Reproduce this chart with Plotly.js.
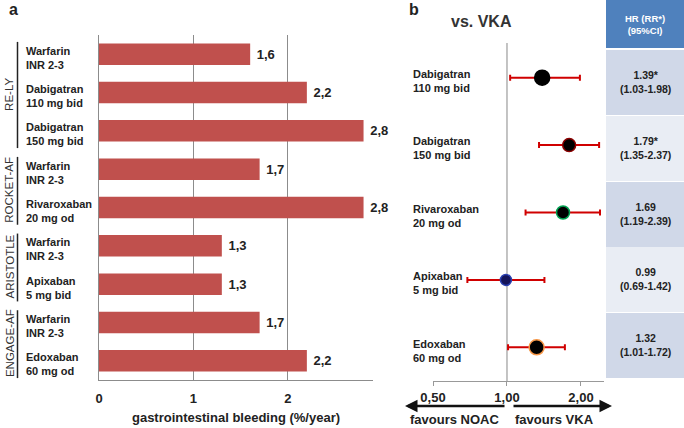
<!DOCTYPE html>
<html>
<head>
<meta charset="utf-8">
<script src="https://cdn.plot.ly/plotly-3.0.1.min.js"></script>
<style>html,body{margin:0;padding:0;background:#fff}#chart{width:684px;height:428px}</style>
</head>
<body>
<div id="chart"></div>
<script>
// ---- Panel a data ----
var barLabels = ["Warfarin<br>INR 2-3","Dabigatran<br>110 mg bid","Dabigatran<br>150 mg bid","Warfarin<br>INR 2-3","Rivaroxaban<br>20 mg od","Warfarin<br>INR 2-3","Apixaban<br>5 mg bid","Warfarin<br>INR 2-3","Edoxaban<br>60 mg od"];
var barValues = [1.6, 2.2, 2.8, 1.7, 2.8, 1.3, 1.3, 1.7, 2.2];
var trialNames = ["RE-LY","ROCKET-AF","ARISTOTLE","ENGAGE-AF"];
var trialFirst = [0, 3, 5, 7];
var trialLast  = [2, 4, 6, 8];
var barTicks = [0, 1, 2];
var barTickText = ["0","1","2"];

// ---- Panel b data ----
var forestLabels = ["Dabigatran<br>110 mg bid","Dabigatran<br>150 mg bid","Rivaroxaban<br>20 mg od","Apixaban<br>5 mg bid","Edoxaban<br>60 mg od"];
var hr = [1.39, 1.79, 1.69, 0.99, 1.32];
var ciLow = [1.03, 1.35, 1.19, 0.69, 1.01];
var ciHigh = [1.98, 2.37, 2.39, 1.42, 1.72];
var isRR = [true, true, false, false, false];
var forestTicks = [0.5, 1, 2];
var forestTickText = ["0,50","1,00","2,00"];

var W = 684, H = 428;
function px(x){return x/W;}
function py(y){return 1 - y/H;}
var FONT = "Arial, 'Liberation Sans', sans-serif";

var barIdx = barValues.map(function(_,i){return i;});
var fIdx = hr.map(function(_,i){return i;});

var traces = [];
traces.push({
  type:'bar', orientation:'h', x:barValues, y:barIdx, xaxis:'x', yaxis:'y',
  marker:{color:'#c0504d'}, width:0.56,
  text: barValues.map(function(v){return '\u00a0' + v.toFixed(1).replace('.', ',');}),
  textposition:'outside', cliponaxis:false,
  textfont:{family:FONT, size:13, color:'#222', weight:'bold'},
  hoverinfo:'none', showlegend:false
});
traces.push({
  type:'scatter', mode:'markers', x:hr, y:fIdx, xaxis:'x2', yaxis:'y2',
  error_x:{type:'data', symmetric:false,
    array: hr.map(function(v,i){return ciHigh[i]-v;}),
    arrayminus: hr.map(function(v,i){return v-ciLow[i];}),
    color:'#d00000', thickness:2, width:3},
  marker:{opacity:1, size:[15,13,13,11,15], color:['#000','#000','#000','#14145a','#000'],
    line:{width:1.5, color:['#000','#8b0000','#00a050','#2a3fb0','#f79646']}},
  hoverinfo:'none', showlegend:false, cliponaxis:false
});

var ann = [];
var shapes = [];
// panel letters and titles
ann.push({text:'<b>a</b>', xref:'paper', yref:'paper', x:px(7), y:py(9), xanchor:'left', yanchor:'middle', showarrow:false, font:{family:FONT,size:16,color:'#222'}});
ann.push({text:'<b>b</b>', xref:'paper', yref:'paper', x:px(407), y:py(9), xanchor:'left', yanchor:'middle', showarrow:false, font:{family:FONT,size:16,color:'#222'}});
ann.push({text:'<b>vs. VKA</b>', xref:'paper', yref:'paper', x:px(481), y:py(22), xanchor:'center', yanchor:'middle', showarrow:false, font:{family:FONT,size:16,color:'#333'}});

// bar category labels
barLabels.forEach(function(l,i){
  ann.push({text:'<b>'+l+'</b>', xref:'paper', yref:'y', x:px(24), y:i+0.09, xanchor:'left', yanchor:'middle', align:'left', showarrow:false, font:{family:FONT,size:11,color:'#222'}});
});
// trial group labels and lines
trialNames.forEach(function(n,g){
  var mid = (trialFirst[g]+trialLast[g])/2 + 0.05;
  ann.push({text:n, xref:'paper', yref:'y', x:px(9.5), y:mid, textangle:-90, xanchor:'center', yanchor:'middle', showarrow:false, font:{family:FONT,size:11.5,color:'#333'}});
  shapes.push({type:'line', xref:'paper', yref:'y', x0:px(17.5), x1:px(17.5), y0:trialFirst[g]-0.32, y1:trialLast[g]+0.45, line:{color:'#222', width:1.5}});
});

// forest labels
forestLabels.forEach(function(l,i){
  ann.push({text:'<b>'+l+'</b>', xref:'paper', yref:'y2', x:px(411), y:i+0.05, xanchor:'left', yanchor:'middle', align:'left', showarrow:false, font:{family:FONT,size:11,color:'#222'}});
});
// reference line at 1
shapes.push({type:'line', xref:'x2', yref:'paper', x0:1, x1:1, y0:py(381), y1:py(43), line:{color:'#888', width:1}, layer:'below'});

// table
shapes.push({type:'rect', xref:'paper', yref:'paper', x0:px(606), x1:px(684), y0:py(48), y1:py(0), fillcolor:'#4f81bd', line:{width:0}, layer:'below'});
ann.push({text:'<b>HR (RR*)<br>(95%CI)</b>', xref:'paper', yref:'paper', x:px(645), y:py(24), xanchor:'center', yanchor:'middle', showarrow:false, font:{family:FONT,size:9.5,color:'#fff'}});
var rowTop = [50, 116, 182, 247, 313];
var rowFill = ['#d0d8e8','#e9edf4','#d0d8e8','#e9edf4','#d0d8e8'];
hr.forEach(function(v,i){
  shapes.push({type:'rect', xref:'paper', yref:'paper', x0:px(606), x1:px(684), y0:py(rowTop[i]+65), y1:py(rowTop[i]), fillcolor:rowFill[i], line:{width:0}, layer:'below'});
  var t = '<b>' + v.toFixed(2) + (isRR[i] ? '*' : '') + '<br>(' + ciLow[i].toFixed(2) + '-' + ciHigh[i].toFixed(2) + ')</b>';
  ann.push({text:t, xref:'paper', yref:'paper', x:px(645), y:py(rowTop[i]+32), xanchor:'center', yanchor:'middle', showarrow:false, font:{family:FONT,size:10.5,color:'#222'}});
});

// arrows
ann.push({text:'', xref:'paper', yref:'paper', x:px(405), y:py(406), ax:101, ay:0, showarrow:true, arrowhead:2, arrowsize:1, arrowwidth:2.5, arrowcolor:'#111'});
ann.push({text:'', xref:'paper', yref:'paper', x:px(612), y:py(406), ax:-100, ay:0, showarrow:true, arrowhead:2, arrowsize:1, arrowwidth:2.5, arrowcolor:'#111'});
ann.push({text:'<b>favours NOAC</b>', xref:'paper', yref:'paper', x:px(454), y:py(419), xanchor:'center', yanchor:'middle', showarrow:false, font:{family:FONT,size:13,color:'#222'}});
ann.push({text:'<b>favours VKA</b>', xref:'paper', yref:'paper', x:px(554), y:py(419), xanchor:'center', yanchor:'middle', showarrow:false, font:{family:FONT,size:13,color:'#222'}});

var layout = {
  width:W, height:H, margin:{l:0,r:0,t:0,b:0}, paper_bgcolor:'#fff', plot_bgcolor:'rgba(0,0,0,0)',
  font:{family:FONT, color:'#222'}, showlegend:false, bargap:0.4,
  xaxis:{domain:[px(99), px(373)], range:[0, 2.9], tickvals:barTicks, ticktext:barTickText,
    showgrid:true, gridcolor:'#8c8c8c', gridwidth:1, zeroline:false,
    showline:true, linecolor:'#8c8c8c', linewidth:1, ticks:'', ticklabelstandoff:6,
    tickfont:{family:FONT, size:13, color:'#222', weight:'bold'},
    title:{text:'gastrointestinal bleeding (%/year)', font:{family:FONT, size:13, color:'#222', weight:'bold'}, standoff:8},
    automargin:false, fixedrange:true, anchor:'y'},
  yaxis:{domain:[py(380), py(35)], range:[8.5, -0.5], showticklabels:false, ticks:'', showgrid:false, zeroline:false,
    showline:true, linecolor:'#8c8c8c', linewidth:1, automargin:false, anchor:'x'},
  xaxis2:{domain:[px(433), px(604)], type:'log', range:[Math.log10(0.5), Math.log10(0.5)+171/245.8],
    tickvals:forestTicks, ticktext:forestTickText, showgrid:false, zeroline:false,
    showline:true, linecolor:'#999', linewidth:1, ticks:'outside', ticklen:4, tickcolor:'#999',
    tickfont:{family:FONT, size:13, color:'#222', weight:'bold'}, automargin:false, anchor:'y2'},
  yaxis2:{domain:[py(381), py(44)], range:[4.5, -0.5], showticklabels:false, ticks:'', showgrid:false, zeroline:false,
    showline:false, automargin:false, anchor:'x2'},
  annotations:ann, shapes:shapes
};
Plotly.newPlot('chart', traces, layout, {displayModeBar:false, staticPlot:true});
</script>
</body>
</html>
